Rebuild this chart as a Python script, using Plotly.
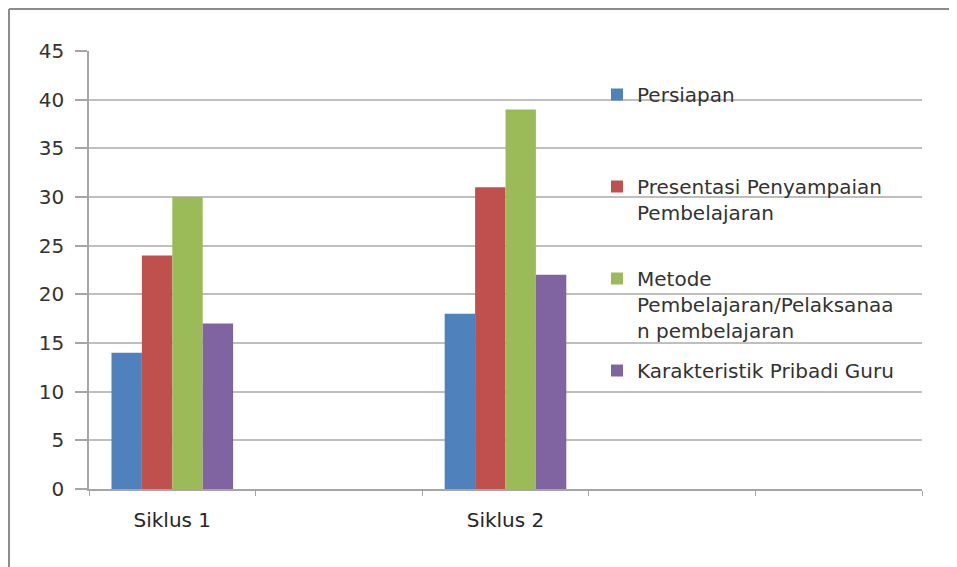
import plotly.graph_objects as go

categories = ["Siklus 1", "Siklus 2"]
cat_pos = [0, 2]  # category slots 0..4 on the axis (5 slots, 3 empty)
series_names = [
    "Persiapan",
    "Presentasi Penyampaian<br>Pembelajaran",
    "Metode<br>Pembelajaran/Pelaksanaa<br>n pembelajaran",
    "Karakteristik Pribadi Guru",
]
persiapan = [14, 18]
presentasi = [24, 31]
metode = [30, 39]
karakteristik = [17, 22]
values = [persiapan, presentasi, metode, karakteristik]
colors = ["#4F81BD", "#C0504D", "#9BBB59", "#8064A2"]
y_ticks = [0, 5, 10, 15, 20, 25, 30, 35, 40, 45]

# page body has an 8px margin, so the figure is drawn 8px smaller
OFF = 8
W, H = 957 - OFF, 567 - OFF
L, R, T, B = 89 - OFF, 35, 51 - OFF, 78
pw, ph = W - L - R, H - T - B

gap = 0.27
bw = (1 - gap) / 4

def pad_lines(s, n=3):
    k = s.count("<br>") + 1
    return s + "<br> " * (n - k)

fig = go.Figure()
for i, (name, vals, col) in enumerate(zip(series_names, values, colors)):
    fig.add_trace(go.Bar(
        x=cat_pos, y=vals, name=pad_lines(name), marker=dict(color=col, line=dict(width=0)),
        width=bw, offset=-(1 - gap) / 2 + i * bw, legendgroup=str(i),
    ))

font = "DejaVu Sans"

def px_x(p):
    return (p - OFF - L) / pw

def px_y(p):
    return (H - B - (p - OFF)) / ph

fig.update_layout(
    width=W, height=H,
    margin=dict(l=L, r=R, t=T, b=B, pad=0),
    paper_bgcolor="white", plot_bgcolor="white",
    barmode="overlay",
    font=dict(family=font, size=20, color="#333333"),
    legend=dict(
        x=px_x(597), xanchor="left", y=px_y(75), yanchor="top",
        bgcolor="rgba(0,0,0,0)", font=dict(family=font, size=20, color="#333333"),
        tracegroupgap=11, valign="top", traceorder="grouped",
    ),
    xaxis=dict(
        range=[-0.5, 4.5], tickmode="array", tickvals=cat_pos, ticktext=categories,
        ticks="", showgrid=False, zeroline=False,
        showline=True, linecolor="#A6A6A6", linewidth=1.5,
        tickfont=dict(family=font, size=20, color="#262626"),
        ticklabelstandoff=12,
        minor=dict(tick0=-0.5, dtick=1, ticks="outside", ticklen=5, tickcolor="#A6A6A6", showgrid=False),
    ),
    yaxis=dict(
        range=[0, 45], tickmode="array", tickvals=y_ticks,
        ticks="outside", ticklen=12, tickcolor="#A6A6A6", tickwidth=1.5,
        showgrid=True, gridcolor="#BFBFBF", gridwidth=1.5,
        showline=True, linecolor="#A6A6A6", linewidth=1.5, zeroline=False,
        tickfont=dict(family=font, size=20, color="#333333"),
        ticklabelstandoff=7,
    ),
)

fig.add_shape(type="line", xref="paper", yref="paper",
              x0=px_x(9), x1=px_x(9), y0=px_y(9), y1=px_y(567),
              line=dict(color="#8C8C8C", width=2))
fig.add_shape(type="line", xref="paper", yref="paper",
              x0=px_x(9), x1=px_x(957), y0=px_y(9), y1=px_y(9),
              line=dict(color="#8C8C8C", width=2))

fig.write_html("out.html")
